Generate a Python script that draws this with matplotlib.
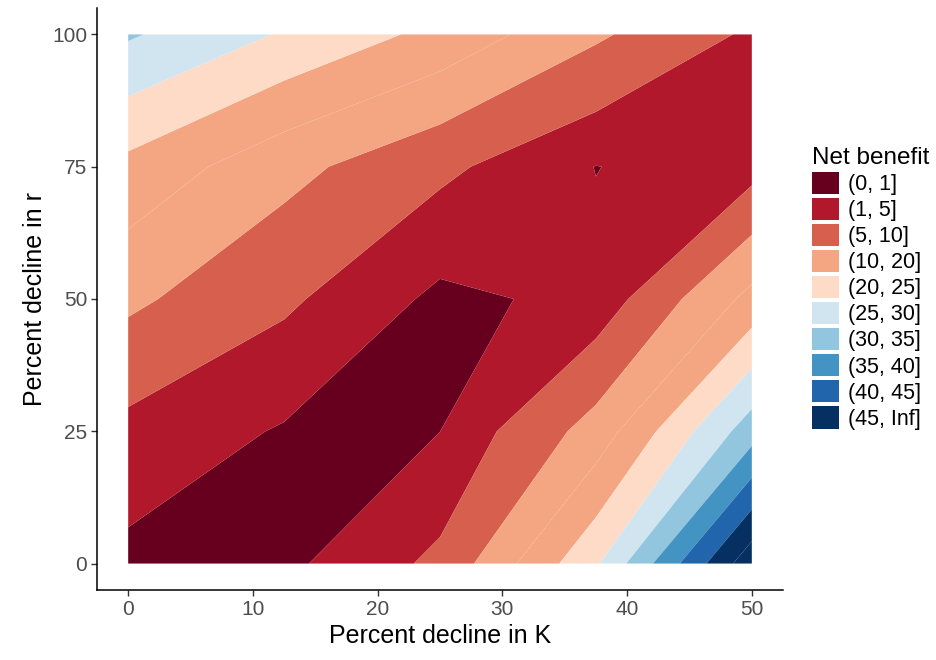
import numpy as np
import matplotlib.pyplot as plt
from matplotlib.patches import Patch

plt.rcParams['font.family'] = ['Liberation Sans', 'DejaVu Sans']

## Data: net benefit on the K x r grid
K = [0, 12.5, 25, 37.5, 50]          # percent decline in K
r = [0, 25, 50, 75, 100]             # percent decline in r
net_r0 = [0.0, 0.05, 6.0, 24.3, 53.5]
net_r25 = [3.65, 0.64, 0.98, 12.0, 32.7]
net_r50 = [11.0, 5.8, 0.1, 2.0, 16.5]
net_r75 = [18.6, 11.6, 6.0, 0.92, 3.1]
net_r100 = [30.6, 24.5, 18.5, 10.75, 4.2]

breaks = [0, 1, 5, 10, 15, 20, 25, 30, 35, 40, 45, 50, 1000]
band_colors = ['#67001F', '#B2182B', '#D6604D', '#F4A582', '#F4A582', '#FDDBC7',
               '#D1E5F0', '#92C5DE', '#4393C3', '#2166AC', '#053061', '#053061']
legend_labels = ['(0, 1]', '(1, 5]', '(5, 10]', '(10, 20]', '(20, 25]',
                 '(25, 30]', '(30, 35]', '(35, 40]', '(40, 45]', '(45, Inf]']
legend_colors = ['#67001F', '#B2182B', '#D6604D', '#F4A582', '#FDDBC7',
                 '#D1E5F0', '#92C5DE', '#4393C3', '#2166AC', '#053061']

Z = np.array([net_r0, net_r25, net_r50, net_r75, net_r100])
X, Y = np.meshgrid(K, r)

## Plot
fig = plt.figure(figsize=(9.37, 6.6), dpi=100)
ax = fig.add_axes([97/937, 1-590/660, (783-97)/937, (590-8)/660])

ax.contourf(X, Y, Z, levels=breaks, colors=band_colors, antialiased=True)

ax.set_xlim(-2.5, 52.5)
ax.set_ylim(-5, 105)
ax.set_xticks([0, 10, 20, 30, 40, 50])
ax.set_yticks([0, 25, 50, 75, 100])
for s in ['top', 'right']:
    ax.spines[s].set_visible(False)
for s in ['left', 'bottom']:
    ax.spines[s].set_linewidth(1.1)
ax.tick_params(length=4, width=1, color='#333333', labelcolor='#4D4D4D',
               labelsize=15, pad=3)
ax.set_xlabel('Percent decline in K', fontsize=18, labelpad=4)
ax.set_ylabel('Percent decline in r', fontsize=18, labelpad=4)

handles = [Patch(facecolor=c, edgecolor='none') for c in legend_colors]
fig.legend(handles, legend_labels, loc='upper left',
           bbox_to_anchor=(801/937, 1-136/660), frameon=False,
           title='Net benefit', fontsize=15.5, title_fontsize=17.5,
           handlelength=1.25, handleheight=1.2, labelspacing=0.13,
           handletextpad=0.45, borderpad=0, alignment='left')

plt.savefig('out.png', dpi=100)
